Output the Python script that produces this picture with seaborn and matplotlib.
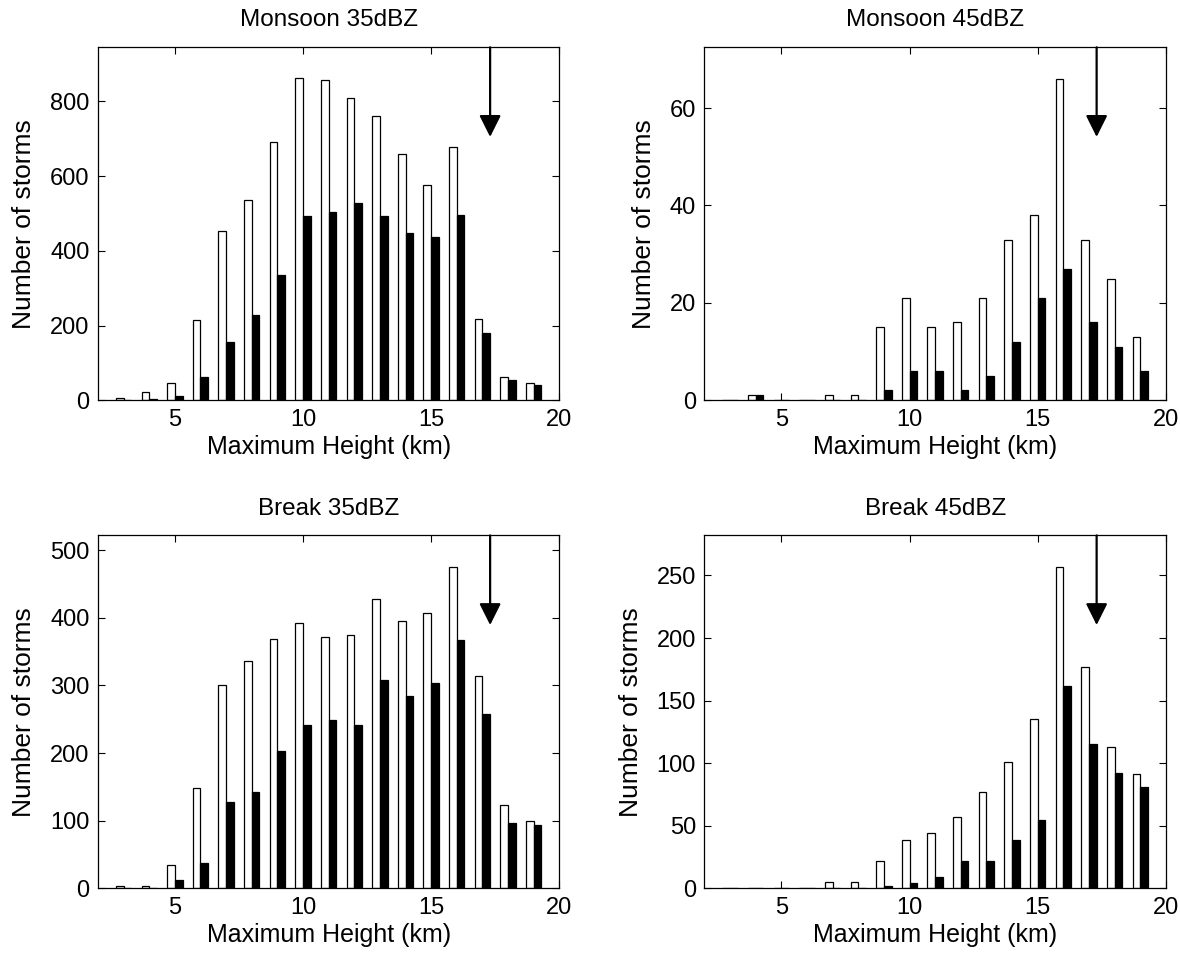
import numpy as np
import pandas as pd
import matplotlib
matplotlib.use("Agg")
import matplotlib.pyplot as plt
import seaborn as sns

# ---- data ----
heights = list(range(3, 20))  # km, 3..19

titles = ["Monsoon 35dBZ", "Monsoon 45dBZ", "Break 35dBZ", "Break 45dBZ"]

m35_white = [5, 21, 45, 215, 453, 535, 692, 863, 858, 809, 760, 658, 576, 678, 218, 63, 46]
m35_black = [0, 3, 11, 62, 156, 227, 334, 494, 503, 529, 494, 449, 437, 496, 180, 53, 41]

m45_white = [0, 1, 0, 0, 1, 1, 15, 21, 15, 16, 21, 33, 38, 66, 33, 25, 13]
m45_black = [0, 1, 0, 0, 0, 0, 2, 6, 6, 2, 5, 12, 21, 27, 16, 11, 6]

b35_white = [3, 4, 34, 149, 300, 336, 369, 392, 372, 375, 428, 396, 407, 475, 314, 123, 100]
b35_black = [0, 0, 12, 38, 128, 143, 203, 242, 249, 241, 308, 284, 304, 368, 258, 97, 93]

b45_white = [0, 0, 0, 0, 5, 5, 22, 39, 44, 57, 77, 101, 135, 257, 177, 113, 91]
b45_black = [0, 0, 0, 0, 0, 0, 2, 4, 9, 22, 22, 39, 55, 162, 115, 92, 81]

series = [(m35_white, m35_black), (m45_white, m45_black),
          (b35_white, b35_black), (b45_white, b45_black)]

ylims = [945, 72.5, 522, 282]
yticks = [[0, 200, 400, 600, 800], [0, 20, 40, 60],
          [0, 100, 200, 300, 400, 500], [0, 50, 100, 150, 200, 250]]
xticks = [5, 10, 15, 20]
arrow_x = 17.3

# ---- style ----
sns.set_style("ticks")
plt.rcParams["font.family"] = ["Liberation Sans", "DejaVu Sans"]
plt.rcParams["font.size"] = 17
plt.rcParams["text.color"] = "black"
plt.rcParams["axes.labelcolor"] = "black"
plt.rcParams["xtick.color"] = "black"
plt.rcParams["ytick.color"] = "black"

fig, axes = plt.subplots(2, 2, figsize=(11.8, 9.55), dpi=100)
fig.subplots_adjust(left=0.083, right=0.988, top=0.9505, bottom=0.0698,
                    wspace=0.3145, hspace=0.383)

for ax, title, (w, b), ymax, yt in zip(axes.flat, titles, series, ylims, yticks):
    df = pd.DataFrame({
        "height": heights * 2,
        "count": list(w) + list(b),
        "kind": ["all"] * len(heights) + ["sel"] * len(heights),
    })
    sns.barplot(data=df, x="height", y="count", hue="kind", native_scale=True,
                palette=["white", "black"], edgecolor="black", linewidth=0.9,
                width=0.6, errorbar=None, legend=False, ax=ax)
    ax.set_xlim(2, 20)
    ax.set_ylim(0, ymax)
    ax.set_xticks(xticks)
    ax.set_yticks(yt)
    ax.tick_params(direction="in", length=5, width=0.8, top=True, right=True,
                   labelsize=17, pad=6, colors="black")
    for s in ax.spines.values():
        s.set_visible(True)
        s.set_color("black")
        s.set_linewidth(0.9)
    ax.set_title(title, fontsize=17.5, pad=15, color="black")
    ax.set_xlabel("Maximum Height (km)", fontsize=18, labelpad=3, color="black")
    ax.set_ylabel("Number of storms", fontsize=19, labelpad=10, color="black")
    ax.annotate("", xy=(arrow_x, 0.746), xytext=(arrow_x, 1.0),
                xycoords=ax.get_xaxis_transform(),
                textcoords=ax.get_xaxis_transform(),
                arrowprops=dict(arrowstyle="-|>,head_length=0.6,head_width=0.3",
                                mutation_scale=22, lw=1.6, color="black",
                                shrinkA=0, shrinkB=0))

fig.savefig("out.png", dpi=100, facecolor="white")
